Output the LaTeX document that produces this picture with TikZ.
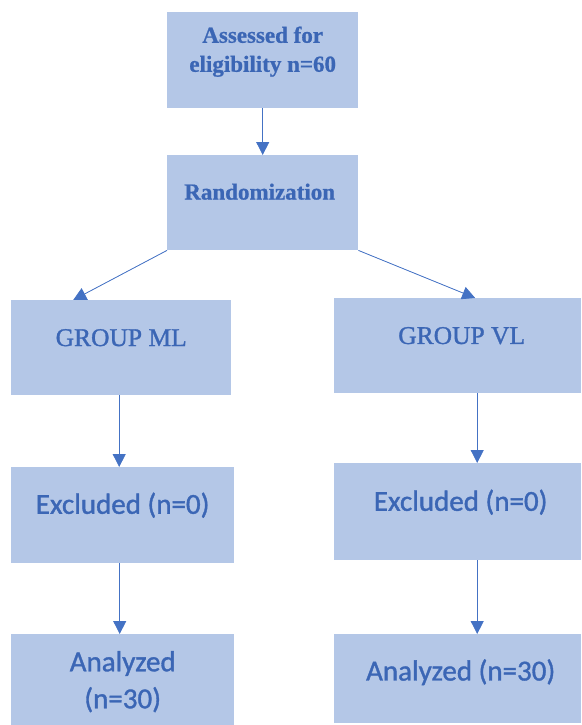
\documentclass[tikz,border=0pt]{standalone}
\usepackage{fontspec}
\setmainfont{Liberation Serif}
\newfontfamily\calfont[FakeBold=1.2]{Carlito}
\newfontfamily\timesfont[FakeBold=1.2]{Liberation Serif}
\newfontfamily\timesbold[FakeBold=0.8]{Liberation Serif Bold}
\usetikzlibrary{arrows.meta}

\definecolor{boxfill}{HTML}{B4C7E7}
\definecolor{accent}{HTML}{4472C4}
\definecolor{inkblue}{HTML}{3B66B5}

\tikzset{
  panel/.style={fill=boxfill, inner sep=0pt, anchor=north west},
  serifbold/.style={text=inkblue, align=center, font=\timesbold\fontsize{23}{29}\selectfont},
  serifplain/.style={text=inkblue, align=center, font=\timesfont\fontsize{25.5}{29}\selectfont},
  sanstext/.style={text=inkblue, align=center, font=\calfont\fontsize{29}{37}\selectfont},
  arr/.style={draw=accent, line width=0.8pt, -{Triangle[length=13pt,width=13pt]}, fill=accent}
}

\begin{document}
\begin{tikzpicture}[x=1pt, y=-1pt]

  \useasboundingbox (0,0) rectangle (581,725);

  % top column
  \node[panel, minimum width=191pt, minimum height=96pt,
    label={[serifbold, yshift=8.5pt]center:Assessed for\\eligibility n=60}] (assess) at (167,12) {};
  \node[panel, minimum width=191pt, minimum height=95pt,
    label={[serifbold, yshift=11pt, xshift=-3pt]center:Randomization}] (rand) at (167,155) {};

  % the two groups
  \node[panel, minimum width=220pt, minimum height=95pt,
    label={[serifplain, yshift=10pt]center:GROUP ML}] (ml) at (11,300) {};
  \node[panel, minimum width=247pt, minimum height=95pt,
    label={[serifplain, yshift=10pt, xshift=4pt]center:GROUP VL}] (vl) at (334,298) {};

  \node[panel, minimum width=223pt, minimum height=96pt,
    label={[sanstext, yshift=10pt]center:Excluded (n=0)}] (exml) at (11,467) {};
  \node[panel, minimum width=247pt, minimum height=97pt,
    label={[sanstext, yshift=9.5pt, xshift=3pt]center:Excluded (n=0)}] (exvl) at (334,463) {};

  \node[panel, minimum width=223pt, minimum height=91pt,
    label={[sanstext, yshift=-2pt]center:Analyzed\\(n=30)}] (anml) at (11,634) {};
  \node[panel, minimum width=247pt, minimum height=89pt,
    label={[sanstext, yshift=6.5pt, xshift=3pt]center:Analyzed (n=30)}] (anvl) at (334,634) {};

  % connectors
  \draw[arr] (assess) -- (rand);
  \draw[arr] (rand.south west) -- ([xshift=-48pt]ml.north);
  \draw[arr] (rand.south east) -- ([xshift=17.5pt]vl.north);
  \draw[arr] ([xshift=-2pt]ml.south) -- ([xshift=-2pt]ml.south |- exml.north);
  \draw[arr] ([xshift=-3pt]exml.south) -- ([xshift=-3pt]anml.north);
  \draw[arr] ([xshift=19.5pt]vl.south) -- ([xshift=19.5pt]exvl.north);
  \draw[arr] ([xshift=19.5pt]exvl.south) -- ([xshift=19.5pt]anvl.north);

\end{tikzpicture}
\end{document}
